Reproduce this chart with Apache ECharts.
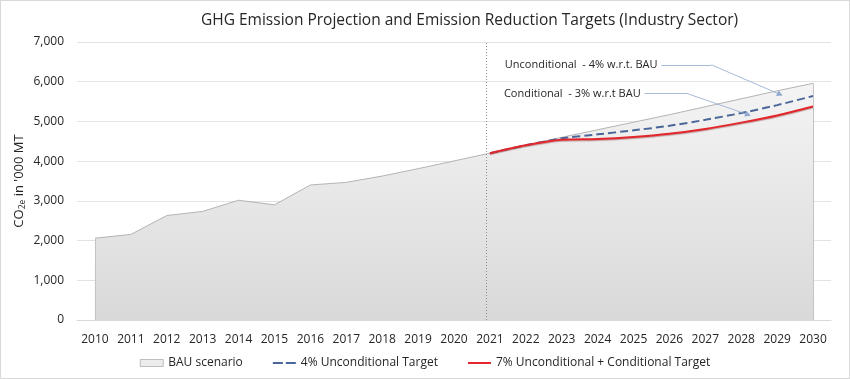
<!DOCTYPE html>
<html>
<head>
<meta charset="utf-8">
<script src="https://cdn.jsdelivr.net/npm/echarts@6/dist/echarts.min.js"></script>
<style>
html,body{margin:0;padding:0;background:#fff;}
#chart{width:850px;height:379px;box-sizing:border-box;border:1px solid #d9d9d9;}
</style>
</head>
<body>
<div id="chart"></div>
<script>
const years = ['2010','2011','2012','2013','2014','2015','2016','2017','2018','2019','2020',
  '2021','2022','2023','2024','2025','2026','2027','2028','2029','2030'];
const yTicks = [0,1000,2000,3000,4000,5000,6000,7000];
const bau = [2060,2155,2630,2735,3015,2900,3400,3465,3625,3810,4005,
  4200,4400,4600,4790,4980,5170,5370,5570,5770,5960];
const uncondYears = ['2021','2022','2023','2024','2025','2026','2027','2028','2029','2030'];
const uncond = [4200,4400,4575,4675,4775,4890,5040,5210,5410,5640];
const cond = [4200,4400,4540,4560,4610,4690,4810,4970,5150,5375];
const annotUncond = [[2025.78,6425],[2027.17,6425],[2029.08,5680]];
const annotCond = [[2025.31,5700],[2026.5,5700],[2028.19,5170]];
const dividerYear = 2020.9;

function pad(vals){
  const out = years.map(()=>null);
  uncondYears.forEach((y,i)=>{ out[years.indexOf(y)] = vals[i]; });
  return out;
}

const FONT = '"Open Sans", "Noto Sans", sans-serif';
const chart = echarts.init(document.getElementById('chart'));

function annotSeries(pts, text){
  return {
    type:'line', xAxisIndex:1, yAxisIndex:0, silent:true, data:[],
    symbol:'none',
    markLine:{
      silent:true, animation:false,
      lineStyle:{color:'#8fa9cf', width:0.8, type:'solid'},
      itemStyle:{color:'#4a72c0'},
      data:[
        [{coord:pts[0], symbol:'none',
          label:{show:true, position:'start', distance:4, formatter:text,
            color:'#262626', fontSize:11, fontFamily:FONT}},
         {coord:pts[1], symbol:'none'}],
        [{coord:pts[1], symbol:'none', label:{show:false}},
         {coord:pts[2], symbol:'triangle', symbolSize:6}]
      ]
    }
  };
}

chart.setOption({
  animation:false,
  title:{
    text:'GHG Emission Projection and Emission Reduction Targets (Industry Sector)',
    left:195, top:7,
    textStyle:{fontFamily:FONT, fontSize:15.5, fontWeight:'normal', color:'#262626'}
  },
  grid:{left:76, right:18, top:41, bottom:58},
  legend:{
    bottom:4, left:'center', itemWidth:23, itemHeight:7, itemGap:30,
    textStyle:{fontFamily:FONT, fontSize:12, color:'#262626'},
    data:[
      {name:'BAU scenario', icon:'rect', itemStyle:{color:'#ececec', borderColor:'#bdbdbd', borderWidth:1}},
      {name:'4% Unconditional Target', icon:'path://M0,0h10v2h-10zM13,0h10v2h-10z',
        itemStyle:{color:'#4a6699', borderWidth:0}},
      {name:'7% Unconditional + Conditional Target', icon:'path://M0,0h23v2h-23z',
        itemStyle:{color:'#e3262b', borderWidth:0}}
    ]
  },
  xAxis:[
    {
      type:'category', data:years, boundaryGap:true,
      axisLine:{lineStyle:{color:'#d9d9d9'}},
      axisTick:{show:false},
      axisLabel:{fontFamily:FONT, fontSize:12, color:'#262626', margin:14, interval:0}
    },
    {type:'value', min:2009.5, max:2030.5, show:false}
  ],
  yAxis:{
    type:'value', min:yTicks[0], max:yTicks[yTicks.length-1], interval:1000,
    name:'{a|CO}{s|2e}{a| in \'000 MT}', nameLocation:'middle', nameGap:50,
    nameMoveOverlap:false,
    nameTextStyle:{rich:{
      a:{fontFamily:FONT, fontSize:13, color:'#262626'},
      s:{fontFamily:FONT, fontSize:8.5, color:'#262626', verticalAlign:'bottom', padding:[7,0,0,0]}
    }},
    axisLine:{show:false}, axisTick:{show:false},
    splitLine:{lineStyle:{color:'#e3e3e3'}},
    axisLabel:{fontFamily:FONT, fontSize:12, color:'#262626', margin:13,
      formatter:v=>v.toLocaleString('en-US')}
  },
  series:[
    {
      name:'BAU scenario', type:'line', data:bau, symbol:'none',
      lineStyle:{color:'#b3b3b3', width:1},
      itemStyle:{color:'#ececec', borderColor:'#bdbdbd'},
      areaStyle:{color:new echarts.graphic.LinearGradient(0,0,0,1,[
        {offset:0, color:'#f4f4f4'},{offset:1, color:'#d9d9d9'}]), opacity:1},
      z:1,
      markLine:{
        silent:true, symbol:'none', label:{show:false},
        lineStyle:{color:'#c4c4c4', width:1, type:'solid'},
        data:[
          [{coord:[0,0]},{coord:[0,bau[0]]}],
          [{coord:[years.length-1,0]},{coord:[years.length-1,bau[bau.length-1]]}]
        ]
      }
    },
    {
      name:'4% Unconditional Target', type:'line', data:pad(uncond), symbol:'none',
      smooth:0.2, connectNulls:false,
      lineStyle:{color:'#4a6699', width:2, type:[8,4]},
      itemStyle:{color:'#4a6699'}, z:3
    },
    {
      name:'7% Unconditional + Conditional Target', type:'line', data:pad(cond), symbol:'none',
      smooth:0.3,
      lineStyle:{color:'#e3262b', width:2, shadowColor:'rgba(110,0,0,0.35)', shadowOffsetY:1, shadowBlur:1},
      itemStyle:{color:'#e3262b'}, z:4
    },
    annotSeries(annotUncond, 'Unconditional  - 4% w.r.t. BAU'),
    annotSeries(annotCond, 'Conditional  - 3% w.r.t BAU'),
    {
      type:'line', xAxisIndex:1, yAxisIndex:0, data:[], silent:true,
      markLine:{
        silent:true, symbol:'none', label:{show:false},
        lineStyle:{color:'#8c8c8c', width:1, type:[1,2]},
        data:[{xAxis:dividerYear}]
      }
    }
  ]
});
</script>
</body>
</html>
